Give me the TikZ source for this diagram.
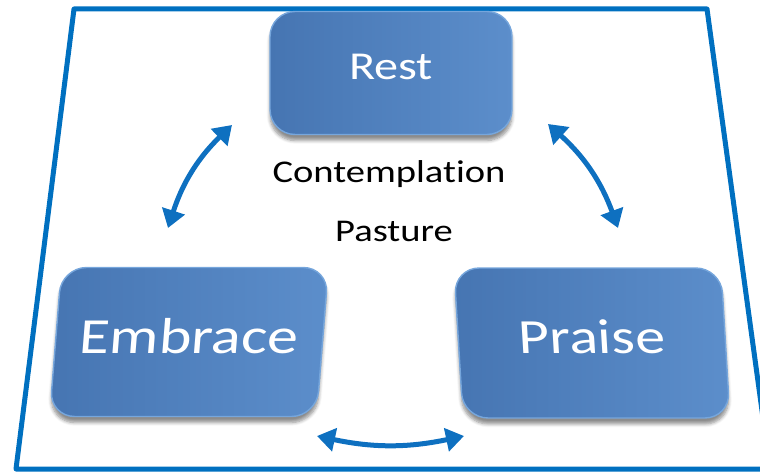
\documentclass[tikz,border=0pt]{standalone}
\usepackage{fontspec}
\setmainfont[FakeStretch=1.22, Ligatures=NoCommon]{Carlito}
\usepackage{xcolor}
\usetikzlibrary{arrows.meta,shadows.blur}
\definecolor{frameblue}{RGB}{0,112,192}
\definecolor{arrowblue}{RGB}{14,112,192}
\definecolor{boxleft}{RGB}{70,117,178}
\definecolor{boxright}{RGB}{92,142,203}
\definecolor{boxedge}{RGB}{118,166,220}
\tikzset{
  stage/.style={rectangle, rounded corners=0.5cm, left color=boxleft, right color=boxright,
    draw=boxedge, line width=0.8pt, text=white, text depth=0.24cm,
    blur shadow={shadow xshift=0cm, shadow yshift=-0.12cm, shadow blur steps=6, shadow opacity=45}},
  flow/.style={draw=arrowblue, line width=0.1cm,
    {Triangle[width=0.46cm,length=0.36cm]}-{Triangle[width=0.46cm,length=0.36cm]}}
}

\begin{document}
\begin{tikzpicture}[x=0.02cm,y=-0.02cm]
\useasboundingbox (0,0) rectangle (760,472);
\begin{scope}
\clip (0,0) rectangle (760,472);
\draw[frameblue, line width=0.1cm, line join=round] (74,9)--(707,9)--(770,469)--(16,469)--cycle;
\end{scope}
\node[stage, minimum width=4.84cm, minimum height=2.46cm, font=\fontsize{22.5}{27}\selectfont] (rest) at (391,73) {Rest};
\begin{scope}[shift={(189,342)}, xslant=0.08]
\node[stage, transform shape, minimum width=5.34cm, minimum height=2.98cm, font=\fontsize{28.8}{34}\selectfont] (embrace) at (0,0) {Embrace};
\end{scope}
\begin{scope}[shift={(592,343)}, xslant=-0.06]
\node[stage, transform shape, minimum width=5.34cm, minimum height=3cm, font=\fontsize{28}{33}\selectfont] (praise) at (0,0) {Praise};
\end{scope}
\node[anchor=base, font=\fontsize{18}{22}\selectfont] (contemplation) at (389,183) {Contemplation};
\node[anchor=base, font=\fontsize{18}{22}\selectfont] (pasture) at (394,242) {Pasture};
% arrow ends
\coordinate (wb) at (168,228);
\coordinate (wt) at (232,125);
\coordinate (et) at (548,124);
\coordinate (eb) at (618,228);
\coordinate (sl) at (317,436);
\coordinate (sr) at (464,436);
\draw[flow] (wb) to[bend left=14] (wt);
\draw[flow] (et) to[bend left=14] (eb);
\draw[flow] (sl) to[bend right=12] (sr);
\end{tikzpicture}
\end{document}
